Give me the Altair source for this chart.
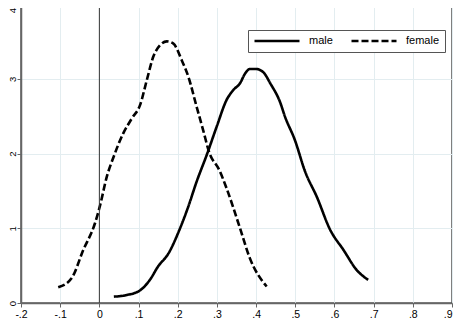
import altair as alt
import pandas as pd

male_x = [0.037, 0.070, 0.104, 0.129, 0.150, 0.176, 0.206, 0.227, 0.248, 0.274, 0.2995, 0.325, 0.342,
          0.359, 0.372, 0.384, 0.400, 0.418, 0.436, 0.461, 0.474, 0.499, 0.525, 0.555, 0.589, 0.623,
          0.657, 0.686]
male_y = [0.085, 0.107, 0.17, 0.31, 0.49, 0.66, 1.00, 1.29, 1.62, 1.98, 2.36, 2.72, 2.85,
          2.94, 3.07, 3.13, 3.13, 3.09, 2.94, 2.69, 2.49, 2.18, 1.76, 1.42, 0.98, 0.71,
          0.44, 0.31]

female_x = [-0.105, -0.071, -0.041, -0.011, 0.002, 0.019, 0.036, 0.061, 0.083, 0.104, 0.121, 0.138,
            0.155, 0.172, 0.189, 0.210, 0.227, 0.248, 0.265, 0.280, 0.306, 0.325, 0.359, 0.384,
            0.427]
female_y = [0.21, 0.33, 0.71, 1.07, 1.31, 1.69, 1.95, 2.27, 2.47, 2.65, 2.98, 3.30,
            3.45, 3.50, 3.47, 3.25, 3.03, 2.63, 2.31, 2.02, 1.78, 1.53, 1.00, 0.60,
            0.22]

series = ["male", "female"]
x_ticks = [-0.2, -0.1, 0, 0.1, 0.2, 0.3, 0.4, 0.5, 0.6, 0.7, 0.8, 0.9]
x_tick_labels = ["-.2", "-.1", "0", ".1", ".2", ".3", ".4", ".5", ".6", ".7", ".8", ".9"]
y_ticks = [0, 1, 2, 3, 4]

df = pd.concat([
    pd.DataFrame({"x": male_x, "y": male_y, "sex": "male", "order": range(len(male_x))}),
    pd.DataFrame({"x": female_x, "y": female_y, "sex": "female", "order": range(len(female_x))}),
])

label_arr = "[" + ",".join("'%s'" % s for s in x_tick_labels) + "]"

xscale = alt.Scale(domain=[-0.2, 0.9], nice=False, zero=False)
yscale = alt.Scale(domain=[0, 4], nice=False)

x_axis = alt.Axis(values=x_ticks, labelExpr=label_arr + "[round((datum.value+0.2)*10)]",
                  grid=True, gridColor="#e3edf0", domainColor="#666", tickColor="#666",
                  tickSize=4, labelPadding=2, labelFontSize=10.5, labelColor="black",
                  labelFont="Liberation Sans", domainWidth=1.5, labelOverlap=False,
                  labelFlush=False, labelBound=False,
                  labelAlign={"condition": {"test": "datum.value > 0.85", "value": "right"},
                              "value": "center"})

lines = alt.Chart(df).mark_line(color="black", strokeWidth=2.6, interpolate="monotone").encode(
    x=alt.X("x:Q", scale=xscale, title=None, axis=x_axis),
    y=alt.Y("y:Q", scale=yscale, title=None,
            axis=alt.Axis(values=y_ticks, grid=True, gridColor="#e3edf0", domainColor="#666",
                          tickColor="#666", tickSize=4, labelAngle=270, labelAlign="center",
                          labelBaseline="alphabetic", labelPadding=1.5, labelFontSize=9.5,
                          labelColor="black", labelFont="Liberation Sans", domainWidth=1.5,
                          labelOverlap=False, labelFlush=False, labelBound=False,
                          labelOffset={"condition": {"test": "datum.value > 3.5", "value": 6},
                                       "value": 0})),
    strokeDash=alt.StrokeDash("sex:N", scale=alt.Scale(domain=series, range=[[1, 0], [7, 3]]),
                              legend=alt.Legend(title=None, orient="none", legendX=227, legendY=26,
                                                direction="horizontal", symbolType="stroke",
                                                symbolSize=2025, symbolStrokeWidth=2.6,
                                                symbolStrokeColor="black", labelFontSize=11,
                                                labelFont="Liberation Sans", labelOffset=8,
                                                columnPadding=17, padding=5, strokeColor="#555",
                                                fillColor="white", clipHeight=12)),
    order="order:Q",
)

zero = pd.DataFrame({"x": [0]})
rule = alt.Chart(zero).mark_rule(color="#333", strokeWidth=1).encode(
    x=alt.X("x:Q", scale=xscale, title=None, axis=x_axis))

chart = alt.layer(lines, rule).properties(
    width=431, height=299,
    autosize=alt.AutoSizeParams(type="none"),
    padding={"left": 13, "top": -4, "right": 1, "bottom": 16},
).configure_view(stroke="#555", strokeWidth=1.5)

chart.save("out.html", embed_options={"renderer": "svg", "actions": False})
